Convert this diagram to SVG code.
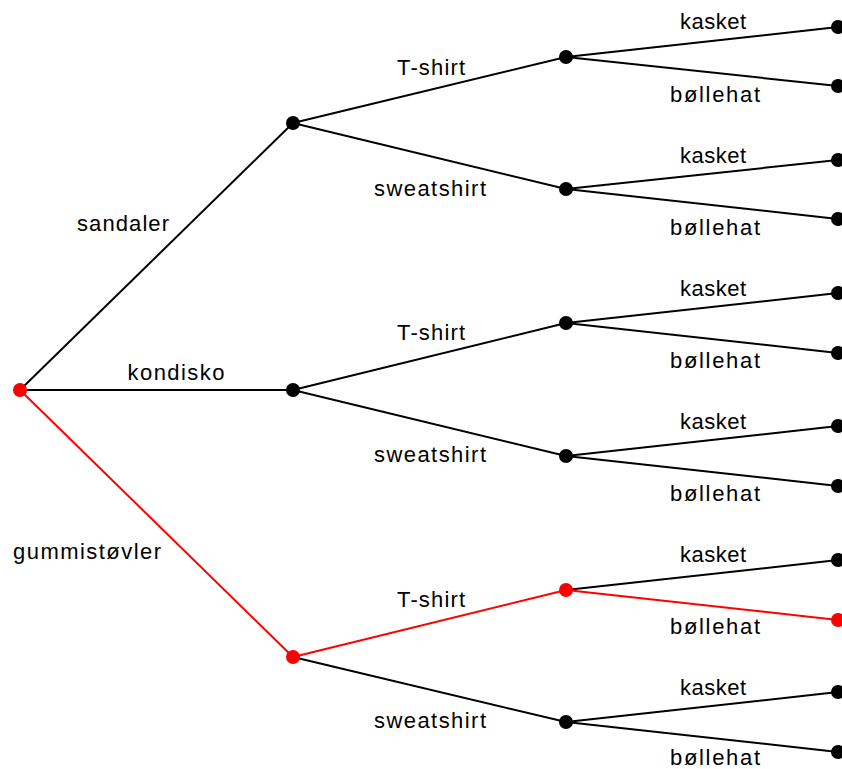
<svg xmlns="http://www.w3.org/2000/svg" width="842" height="769" viewBox="0 0 842 769">
<style>
.e{stroke:#000;stroke-width:2;fill:none}
.r{stroke:#ff0000;stroke-width:2;fill:none}
.n{fill:#000}
.nr{fill:#ff0000}
text{font-family:"Liberation Sans",Arial,sans-serif;font-size:22px;fill:#000;text-anchor:middle}
</style>
<rect width="842" height="769" fill="#fff"/>
<g id="connectors">
<line class="e" x1="20" y1="390" x2="293" y2="123"/>
<line class="e" x1="20" y1="390" x2="293" y2="390"/>
<line class="r" x1="20" y1="390" x2="293" y2="657"/>
<line class="e" x1="293" y1="123" x2="566" y2="57"/>
<line class="e" x1="293" y1="123" x2="566" y2="189"/>
<line class="e" x1="293" y1="390" x2="566" y2="323"/>
<line class="e" x1="293" y1="390" x2="566" y2="456"/>
<line class="r" x1="293" y1="657" x2="566" y2="590"/>
<line class="e" x1="293" y1="657" x2="566" y2="722"/>
<line class="e" x1="566" y1="57" x2="838" y2="27"/>
<line class="e" x1="566" y1="57" x2="838" y2="86"/>
<line class="e" x1="566" y1="189" x2="838" y2="160"/>
<line class="e" x1="566" y1="189" x2="838" y2="219"/>
<line class="e" x1="566" y1="323" x2="838" y2="293"/>
<line class="e" x1="566" y1="323" x2="838" y2="353"/>
<line class="e" x1="566" y1="456" x2="838" y2="426"/>
<line class="e" x1="566" y1="456" x2="838" y2="486"/>
<line class="e" x1="566" y1="590" x2="838" y2="560"/>
<line class="r" x1="566" y1="590" x2="838" y2="620"/>
<line class="e" x1="566" y1="722" x2="838" y2="692"/>
<line class="e" x1="566" y1="722" x2="838" y2="752"/>
</g>
<g id="labels">
<text x="123" y="231" textLength="92">sandaler</text>
<text x="176" y="380" textLength="97">kondisko</text>
<text x="87" y="559" textLength="148">gummistøvler</text>
<text x="431" y="75" textLength="68">T-shirt</text>
<text x="430" y="196" textLength="112">sweatshirt</text>
<text x="431" y="340" textLength="68">T-shirt</text>
<text x="430" y="462" textLength="112">sweatshirt</text>
<text x="431" y="607" textLength="68">T-shirt</text>
<text x="430" y="728" textLength="112">sweatshirt</text>
<text x="713" y="29" textLength="66">kasket</text>
<text x="715" y="102" textLength="90">bøllehat</text>
<text x="713" y="163" textLength="66">kasket</text>
<text x="715" y="235" textLength="90">bøllehat</text>
<text x="713" y="296" textLength="66">kasket</text>
<text x="715" y="368" textLength="90">bøllehat</text>
<text x="713" y="429" textLength="66">kasket</text>
<text x="715" y="501" textLength="90">bøllehat</text>
<text x="713" y="562" textLength="66">kasket</text>
<text x="715" y="634" textLength="90">bøllehat</text>
<text x="713" y="695" textLength="66">kasket</text>
<text x="715" y="765" textLength="90">bøllehat</text>
</g>
<g id="root"><circle class="nr" cx="20" cy="390" r="7"/></g>
<g id="n-sandaler"><circle class="n" cx="293" cy="123" r="7"/></g>
<g id="n-kondisko"><circle class="n" cx="293" cy="390" r="7"/></g>
<g id="n-gummistovler"><circle class="nr" cx="293" cy="657" r="7"/></g>
<g id="n-s-t"><circle class="n" cx="566" cy="57" r="7"/></g>
<g id="n-s-sw"><circle class="n" cx="566" cy="189" r="7"/></g>
<g id="n-k-t"><circle class="n" cx="566" cy="323" r="7"/></g>
<g id="n-k-sw"><circle class="n" cx="566" cy="456" r="7"/></g>
<g id="n-g-t"><circle class="nr" cx="566" cy="590" r="7"/></g>
<g id="n-g-sw"><circle class="n" cx="566" cy="722" r="7"/></g>
<g id="leaf1"><circle class="n" cx="838" cy="27" r="7"/></g>
<g id="leaf2"><circle class="n" cx="838" cy="86" r="7"/></g>
<g id="leaf3"><circle class="n" cx="838" cy="160" r="7"/></g>
<g id="leaf4"><circle class="n" cx="838" cy="219" r="7"/></g>
<g id="leaf5"><circle class="n" cx="838" cy="293" r="7"/></g>
<g id="leaf6"><circle class="n" cx="838" cy="353" r="7"/></g>
<g id="leaf7"><circle class="n" cx="838" cy="426" r="7"/></g>
<g id="leaf8"><circle class="n" cx="838" cy="486" r="7"/></g>
<g id="leaf9"><circle class="n" cx="838" cy="560" r="7"/></g>
<g id="leaf10"><circle class="nr" cx="838" cy="620" r="7"/></g>
<g id="leaf11"><circle class="n" cx="838" cy="692" r="7"/></g>
<g id="leaf12"><circle class="n" cx="838" cy="752" r="7"/></g>
</svg>
